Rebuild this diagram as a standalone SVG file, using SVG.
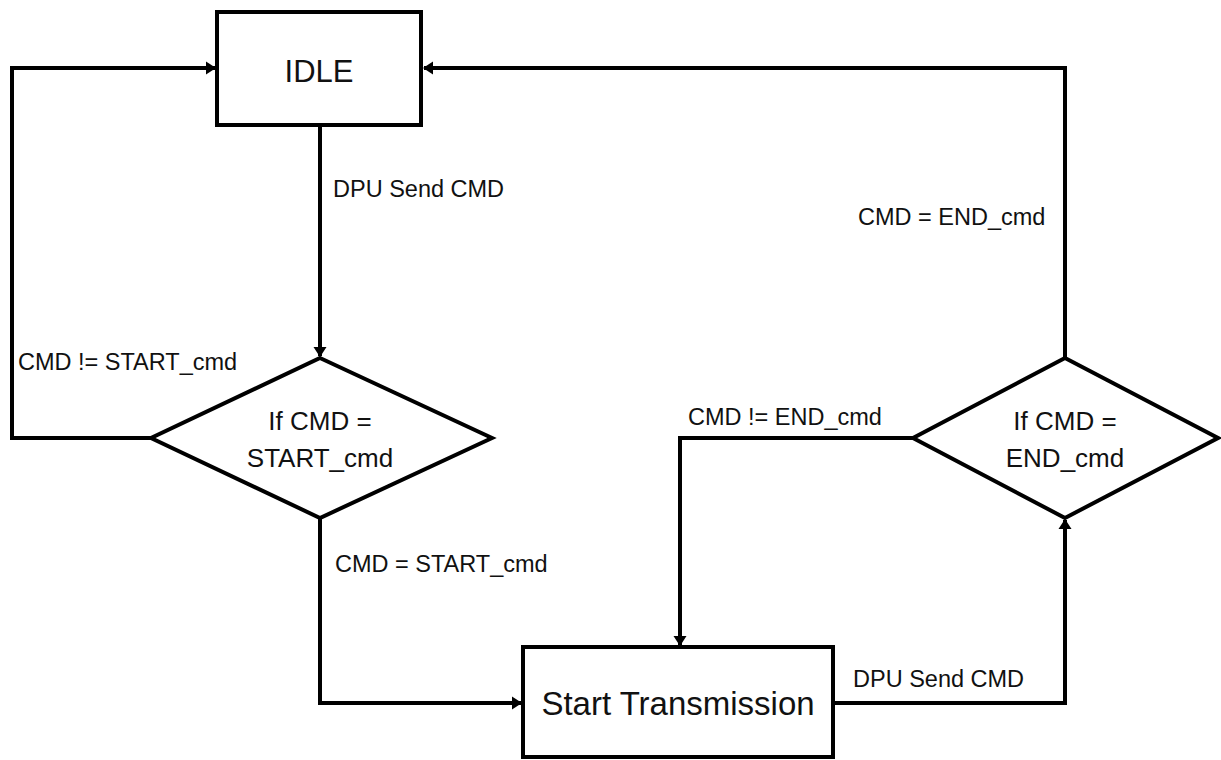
<svg xmlns="http://www.w3.org/2000/svg" width="1221" height="760" viewBox="0 0 1221 760">
<style>
.shape{fill:#fff;stroke:#000;stroke-width:4}
.conn{fill:none;stroke:#000;stroke-width:4;marker-end:url(#arr)}
.node{font-family:"Liberation Sans",Arial,sans-serif;font-size:31px;fill:#111;text-anchor:middle}
.dec{font-family:"Liberation Sans",Arial,sans-serif;font-size:26px;fill:#111;text-anchor:middle}
.lbl{font-family:"Liberation Sans",Arial,sans-serif;font-size:23.5px;fill:#111}
</style>
<defs>
<marker id="arr" viewBox="0 0 10 13" refX="9" refY="6.5" markerWidth="2.6" markerHeight="3.3" orient="auto" markerUnits="strokeWidth">
<path d="M0,0 L10,6.5 L0,13 z" fill="#000"/>
</marker>
</defs>
<rect width="1221" height="760" fill="#fff"/>
<g id="connectors">
<path class="conn" d="M320,127 V356"/>
<path class="conn" d="M151,438 H12 V68 H215"/>
<path class="conn" d="M1065,358 V68 H424"/>
<path class="conn" d="M320,518 V703 H521"/>
<path class="conn" d="M913,438 H680 V645"/>
<path class="conn" d="M835,703 H1065 V520"/>
</g>
<g id="labels">
<text class="lbl" x="333" y="197">DPU Send CMD</text>
<text class="lbl" x="18" y="370">CMD != START_cmd</text>
<text class="lbl" x="335" y="572">CMD = START_cmd</text>
<text class="lbl" x="688" y="425">CMD != END_cmd</text>
<text class="lbl" x="858" y="225">CMD = END_cmd</text>
<text class="lbl" x="853" y="687">DPU Send CMD</text>
</g>
<g id="idle">
<rect class="shape" x="217" y="12" width="204" height="113"/>
<text class="node" x="319" y="82">IDLE</text>
</g>
<g id="check-start">
<polygon class="shape" points="320,358 492,438 320,518 151,438"/>
<text class="dec" x="320" y="430">If CMD =</text>
<text class="dec" x="320" y="467">START_cmd</text>
</g>
<g id="check-end">
<polygon class="shape" points="1065,358 1218,438 1065,518 913,438"/>
<text class="dec" x="1065" y="430">If CMD =</text>
<text class="dec" x="1065" y="467">END_cmd</text>
</g>
<g id="start-transmission">
<rect class="shape" x="523" y="647" width="310" height="110"/>
<text class="node" x="678" y="715" style="font-size:33px">Start Transmission</text>
</g>
</svg>
